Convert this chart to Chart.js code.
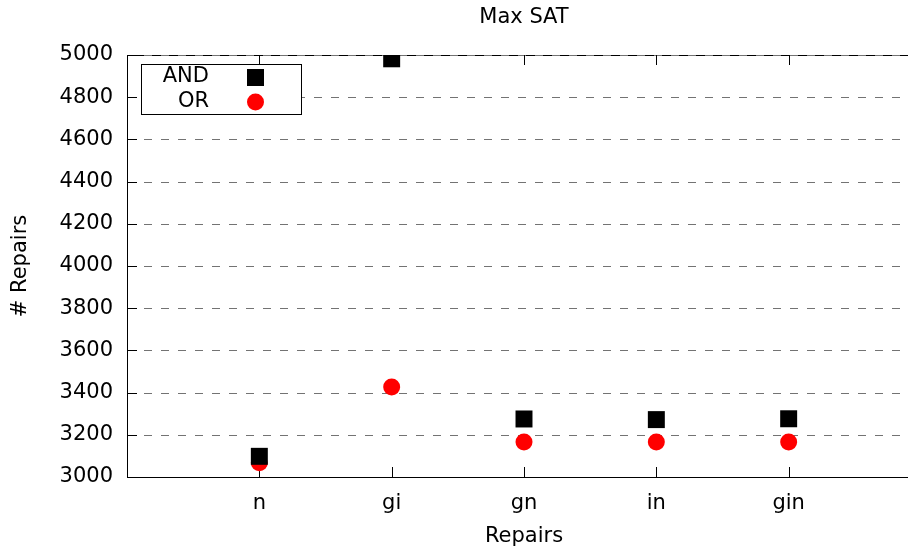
<!DOCTYPE html>
<html>
<head>
<meta charset="utf-8">
<script src="https://cdn.jsdelivr.net/npm/chart.js@4/dist/chart.umd.min.js"></script>
<style>
  html, body { margin: 0; padding: 0; overflow: hidden; background: #fff; width: 908px; height: 552px; }
  #wrap { width: 933px; height: 552px; }
  canvas { display: block; width: 933px; height: 552px; }
</style>
</head>
<body>
<!-- the plot frame runs past the right edge of the page, so the canvas is wider and clipped -->
<div id="wrap"><canvas id="canvas" width="933" height="552"></canvas></div>
<script>
//data
var categories = ['n', 'gi', 'gn', 'in', 'gin'];
var andValues = [3098, 4982, 3275, 3272, 3276];
var orValues = [3068, 3426, 3166, 3166, 3166];
var yTicks = [3000, 3200, 3400, 3600, 3800, 4000, 4200, 4400, 4600, 4800, 5000];

var FONT = '21px "DejaVu Sans"';

function toPoints(values) {
    return values.map(function (v, i) { return { x: i + 1, y: v }; });
}

//gnuplot style frame, grid, inward ticks, titles and key
var gnuplotLook = {
    id: 'gnuplotLook',
    beforeDatasetsDraw: function (chart) {
        var ctx = chart.ctx, a = chart.chartArea;
        var ys = chart.scales.y, xs = chart.scales.x;
        ctx.save();
        //frame
        ctx.strokeStyle = '#000';
        ctx.lineWidth = 1;
        ctx.strokeRect(Math.round(a.left) + 0.5, Math.round(a.top) + 0.5,
            Math.round(a.right - a.left), Math.round(a.bottom - a.top));
        //dashed grid
        ctx.strokeStyle = '#737373';
        ctx.setLineDash([8, 9]);
        yTicks.forEach(function (t) {
            if (t === 3000) return;
            var py = Math.round(ys.getPixelForValue(t)) + 0.5;
            ctx.beginPath();
            ctx.moveTo(a.left, py);
            ctx.lineTo(a.right, py);
            ctx.stroke();
        });
        ctx.setLineDash([]);
        //ticks
        ctx.strokeStyle = '#000';
        ctx.beginPath();
        yTicks.forEach(function (t) {
            var py = Math.round(ys.getPixelForValue(t)) + 0.5;
            ctx.moveTo(a.left, py); ctx.lineTo(a.left + 10, py);
            ctx.moveTo(a.right, py); ctx.lineTo(a.right - 10, py);
        });
        categories.forEach(function (c, i) {
            var px = Math.round(xs.getPixelForValue(i + 1)) + 0.5;
            ctx.moveTo(px, a.bottom); ctx.lineTo(px, a.bottom - 10);
            ctx.moveTo(px, a.top); ctx.lineTo(px, a.top + 10);
        });
        ctx.stroke();
        ctx.restore();
    },
    afterDraw: function (chart) {
        var ctx = chart.ctx;
        ctx.save();
        ctx.fillStyle = '#000';
        ctx.font = FONT;
        ctx.textAlign = 'center';
        ctx.textBaseline = 'middle';
        ctx.fillText('Max SAT', 524, 18);
        ctx.fillText('Repairs', 524, 537);
        ctx.save();
        ctx.translate(21, 266);
        ctx.rotate(-Math.PI / 2);
        ctx.fillText('# Repairs', 0, 0);
        ctx.restore();
        //key
        ctx.fillStyle = '#fff';
        ctx.fillRect(141.5, 64.5, 160, 50);
        ctx.lineWidth = 1;
        ctx.strokeStyle = '#000';
        ctx.strokeRect(141.5, 64.5, 160, 50);
        ctx.fillStyle = '#000';
        ctx.textAlign = 'right';
        ctx.fillText('AND', 209, 77);
        ctx.fillText('OR', 209, 102);
        ctx.fillRect(247, 69, 17, 17);
        ctx.fillStyle = '#ff0000';
        ctx.beginPath();
        ctx.arc(255.5, 102, 8.5, 0, Math.PI * 2);
        ctx.fill();
        ctx.restore();
    }
};

var config = {
    type: 'scatter',
    data: {
        datasets: [
            {
                label: 'AND',
                data: toPoints(andValues),
                pointStyle: 'rect',
                pointRadius: 12,
                pointHoverRadius: 12,
                backgroundColor: '#000',
                borderWidth: 0
            },
            {
                label: 'OR',
                data: toPoints(orValues),
                pointStyle: 'circle',
                pointRadius: 8.5,
                pointHoverRadius: 8.5,
                backgroundColor: '#ff0000',
                borderWidth: 0
            }
        ]
    },
    options: {
        responsive: false,
        animation: false,
        devicePixelRatio: 1,
        layout: { padding: { top: 55, right: 1, left: 0, bottom: 0 } },
        plugins: {
            legend: { display: false },
            title: { display: false },
            tooltip: { enabled: false }
        },
        scales: {
            x: {
                type: 'linear',
                min: 0,
                max: 6,
                afterFit: function (scale) { scale.height = 75; },
                afterBuildTicks: function (scale) {
                    scale.ticks = categories.map(function (c, i) { return { value: i + 1 }; });
                },
                ticks: {
                    color: '#000',
                    font: { family: 'DejaVu Sans', size: 21 },
                    padding: 14,
                    maxRotation: 0,
                    autoSkip: false,
                    callback: function (v) { return categories[v - 1] || ''; }
                },
                grid: { display: false, drawTicks: false },
                border: { display: false }
            },
            y: {
                min: 3000,
                max: 5000,
                afterFit: function (scale) { scale.width = 127; },
                afterBuildTicks: function (scale) {
                    scale.ticks = yTicks.map(function (t) { return { value: t }; });
                },
                ticks: {
                    color: '#000',
                    font: { family: 'DejaVu Sans', size: 21 },
                    padding: 14,
                    callback: function (v) { return String(v); }
                },
                grid: { display: false, drawTicks: false },
                border: { display: false }
            }
        }
    },
    plugins: [gnuplotLook]
};

window.onload = function () {
    var ctx = document.getElementById('canvas').getContext('2d');
    window.myChart = new Chart(ctx, config);
};
</script>
</body>
</html>
